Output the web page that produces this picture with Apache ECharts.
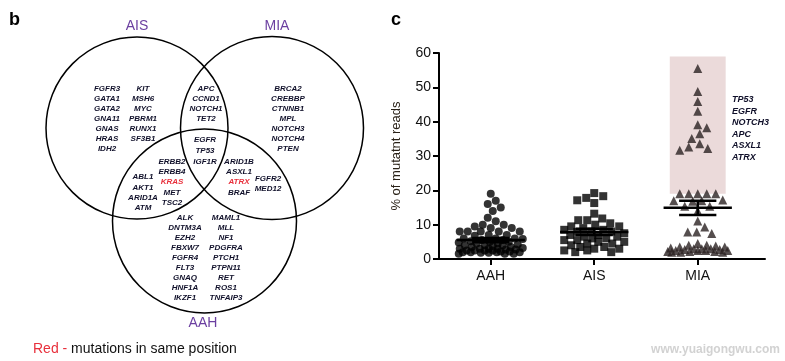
<!DOCTYPE html>
<html><head><meta charset="utf-8">
<script src="https://cdn.jsdelivr.net/npm/echarts@6/dist/echarts.min.js"></script>
<style>html,body{margin:0;padding:0;background:#fff}#c{width:785px;height:361px}</style>
</head><body><div id="c"></div>
<script>
// ---------- Panel c data ----------
const categories = ['AAH', 'AIS', 'MIA'];
const aahValues = [19, 17, 16, 15, 14, 12, 11,
  10, 10, 9.5, 9, 9,
  8, 8, 8, 8, 8,
  7, 7, 6.8,
  6, 6, 6, 5.8, 5.5, 5.5, 5.2, 5,
  5, 4.8, 4.5, 4.5, 4.2, 4, 4, 4, 3.8,
  3.5, 3.5, 3.2, 3, 3, 3, 3, 2.8, 2.8, 2.5, 2.5, 2.5, 2.5, 2.2, 2.2, 2, 2, 2, 2, 1.8, 1.8, 1.5, 1.5, 1.5];
const aisValues = [19.2, 18.3, 17.8, 17.1, 16.3, 13.2, 11.8, 11.3, 11.3, 10.4,
  10, 9.5, 9.5, 9, 8.5, 8.5, 8, 8, 7.9, 7.5, 7, 7, 6.5, 6.5, 6, 6,
  5.5, 5.5, 5, 5, 4.5, 4.5, 4, 3.5, 3.5, 3, 3, 2.5, 2.5, 2, 2];
const miaValues = [55.5, 48.8, 45.9, 43.0, 39.1, 38.2, 36.5, 35.1, 33.6, 32.2, 31.7, 32.6,
  19, 19, 19, 19, 19, 17.2, 17, 17, 16.8, 15.4, 15.4, 14, 11.1, 9.3, 7.9, 7.9, 7.4,
  4.5, 4, 4, 3.8, 3.5, 3.5, 3.2, 3, 3, 3, 2.8, 2.8, 2.5, 2.5, 2.5, 2.5, 2.2, 2.2, 2.2, 2, 2, 2];
const groupMeans = [5.5, 7.9, 14.9];
const groupSems = [0.6, 0.9, 2.1];
const yTicks = [0, 10, 20, 30, 40, 50, 60];
const highlightRange = [19, 59];
const highlightGenes = ['TP53', 'EGFR', 'NOTCH3', 'APC', 'ASXL1', 'ATRX'];

// ---------- Panel b data ----------
const vennLabels = ['AIS', 'MIA', 'AAH'];
const aisOnlyA = ['FGFR3', 'GATA1', 'GATA2', 'GNA11', 'GNAS', 'HRAS', 'IDH2'];
const aisOnlyB = ['KIT', 'MSH6', 'MYC', 'PBRM1', 'RUNX1', 'SF3B1'];
const aisMia = ['APC', 'CCND1', 'NOTCH1', 'TET2'];
const miaOnly = ['BRCA2', 'CREBBP', 'CTNNB1', 'MPL', 'NOTCH3', 'NOTCH4', 'PTEN'];
const allThree = ['EGFR', 'TP53', 'IGF1R'];
const aisAahA = ['ABL1', 'AKT1', 'ARID1A', 'ATM'];
const aisAahB = ['ERBB2', 'ERBB4', 'KRAS', 'MET', 'TSC2'];
const miaAahA = ['ARID1B', 'ASXL1', 'ATRX', 'BRAF'];
const miaAahB = ['FGFR2', 'MED12'];
const aahOnlyA = ['ALK', 'DNTM3A', 'EZH2', 'FBXW7', 'FGFR4', 'FLT3', 'GNAQ', 'HNF1A', 'IKZF1'];
const aahOnlyB = ['MAML1', 'MLL', 'NF1', 'PDGFRA', 'PTCH1', 'PTPN11', 'RET', 'ROS1', 'TNFAIP3'];
const redGenes = ['KRAS', 'ATRX'];

// ---------- layout ----------
const GRID = {left: 439, top: 53, right: 20, bottom: 102};
const XMIN = 0.5, XMAX = 3.65;
const PX_X = (785 - GRID.left - GRID.right) / (XMAX - XMIN);
const PX_Y = (361 - GRID.top - GRID.bottom) / 60;
const FONT = '"Liberation Sans", Arial, sans-serif';

// beeswarm placement (layout only): offsets limited to +/- maxW px, allowing overlap when crowded
function swarm(values, catIdx, diam, maxW) {
  const sorted = values.slice().sort((a, b) => b - a);
  const placed = [];
  const out = [];
  sorted.forEach(v => {
    const y = v * PX_Y;
    let xoff = null;
    for (let d = diam; d > 0 && xoff === null; d -= 0.5) {
      for (let i = 0; i < 2 * maxW + 1; i++) {
        const cand = i === 0 ? 0 : (i % 2 ? 1 : -1) * Math.ceil(i / 2);
        if (Math.abs(cand) > maxW) break;
        if (placed.every(p => (p[0] - cand) ** 2 + (p[1] - y) ** 2 >= d * d)) { xoff = cand; break; }
      }
    }
    if (xoff === null) xoff = 0;
    placed.push([xoff, y]);
    out.push([catIdx + 1 + xoff / PX_X, v]);
  });
  return out;
}

function geneColumn(list, cx, y0, dy) {
  return list.map((g, i) => ({
    type: 'text', x: cx, y: y0 + i * dy, silent: true,
    style: {
      text: g, fill: redGenes.includes(g) ? '#e8303c' : '#10102a',
      fontSize: 8, fontStyle: 'italic', fontWeight: 'bold', fontFamily: FONT,
      align: 'center', verticalAlign: 'middle'
    }
  }));
}

const circles = [[137, 128, 91], [272, 128, 91.5], [204.5, 221, 92]];
const vennLabelPos = [[137, 26], [277, 26], [203, 323]];

const graphics = [];
circles.forEach(c => graphics.push({
  type: 'circle', shape: {cx: c[0], cy: c[1], r: c[2]}, silent: true,
  style: {fill: 'none', stroke: '#000', lineWidth: 1.5}
}));
vennLabels.forEach((t, i) => graphics.push({
  type: 'text', x: vennLabelPos[i][0], y: vennLabelPos[i][1], silent: true,
  style: {text: t, fill: '#6b3fa0', fontSize: 14, fontFamily: FONT, align: 'center', verticalAlign: 'middle'}
}));
graphics.push(
  ...geneColumn(aisOnlyA, 107, 88.3, 10.1),
  ...geneColumn(aisOnlyB, 143, 88.3, 10.1),
  ...geneColumn(aisMia, 206, 88.3, 10.1),
  ...geneColumn(miaOnly, 288, 88.3, 10.1),
  ...geneColumn(allThree, 205, 139.5, 11.2),
  ...geneColumn(aisAahB, 172, 162, 10.1),
  ...geneColumn(aisAahA, 143, 177, 10.3),
  ...geneColumn(miaAahA, 239, 162, 10.1),
  ...geneColumn(miaAahB, 268, 179, 10),
  ...geneColumn(aahOnlyA, 185, 217.3, 10.1),
  ...geneColumn(aahOnlyB, 226, 217.3, 10.1)
);
graphics.push(
  {type: 'text', x: 9, y: 20, silent: true, style: {text: 'b', fontSize: 18, fontWeight: 'bold', fontFamily: FONT, fill: '#000', verticalAlign: 'middle'}},
  {type: 'text', x: 391, y: 20, silent: true, style: {text: 'c', fontSize: 18, fontWeight: 'bold', fontFamily: FONT, fill: '#000', verticalAlign: 'middle'}},
  {type: 'text', x: 33, y: 349, silent: true, style: {
    text: '{r|Red -} mutations in same position', fontSize: 14, fontFamily: FONT, fill: '#111', verticalAlign: 'middle',
    rich: {r: {fill: '#e8303c', fontSize: 14, fontFamily: FONT}}
  }},
  {type: 'text', x: 732, y: 94, silent: true, style: {
    text: highlightGenes.join('\n'), fontSize: 9, fontStyle: 'italic', fontWeight: 'bold', fontFamily: FONT, fill: '#10102a',
    lineHeight: 11.5, verticalAlign: 'top'
  }},
  {type: 'text', x: 780, y: 350, silent: true, style: {
    text: 'www.yuaigongwu.com', fontSize: 12, fontWeight: 'bold', fontFamily: FONT, fill: '#d2d2d2',
    align: 'right', verticalAlign: 'middle'
  }}
);

const chart = echarts.init(document.getElementById('c'), null, {renderer: 'canvas'});
chart.setOption({
  animation: false,
  backgroundColor: '#fff',
  grid: GRID,
  xAxis: {
    type: 'value', min: XMIN, max: XMAX,
    axisLine: {show: true, lineStyle: {color: '#000', width: 2}},
    axisTick: {show: true, customValues: [1, 2, 3], length: 6, lineStyle: {color: '#000', width: 2}},
    axisLabel: {customValues: [1, 2, 3], formatter: v => categories[Math.round(v) - 1], fontSize: 14, color: '#111', fontFamily: FONT, margin: 10},
    splitLine: {show: false}
  },
  yAxis: {
    type: 'value', min: yTicks[0], max: yTicks[yTicks.length - 1], interval: 10,
    axisLine: {show: true, lineStyle: {color: '#000', width: 2}},
    axisTick: {show: true, length: 6, lineStyle: {color: '#000', width: 2}},
    axisLabel: {fontSize: 14, color: '#111', fontFamily: FONT, margin: 8},
    splitLine: {show: false},
    name: '% of mutatnt reads', nameLocation: 'middle', nameGap: 36,
    nameTextStyle: {fontSize: 13, color: '#2a2218', fontFamily: FONT}
  },
  graphic: graphics,
  series: [
    {
      type: 'scatter', name: 'MIA', symbol: 'triangle', symbolSize: 9,
      itemStyle: {color: '#2b2222'}, z: 3,
      data: swarm(miaValues, 2, 9, 30),
      markArea: {
        silent: true, itemStyle: {color: '#ebdada'},
        data: [[{coord: [2.73, highlightRange[0]]}, {coord: [3.27, highlightRange[1]]}]]
      }
    },
    {type: 'scatter', name: 'AAH', symbol: 'circle', symbolSize: 8, itemStyle: {color: '#000'}, z: 3, data: swarm(aahValues, 0, 8, 32)},
    {type: 'scatter', name: 'AIS', symbol: 'rect', symbolSize: 8, itemStyle: {color: '#000'}, z: 3, data: swarm(aisValues, 1, 9, 30)},
    {
      type: 'custom', z: 5, silent: true,
      data: categories.map((c, i) => [i + 1, groupMeans[i], groupSems[i]]),
      renderItem: (params, api) => {
        const c = api.value(0), m = api.value(1), s = api.value(2);
        const st = {stroke: '#000', lineWidth: 2.5};
        const a1 = api.coord([c - 0.33, m]), a2 = api.coord([c + 0.33, m]);
        const t1 = api.coord([c - 0.18, m + s]), t2 = api.coord([c + 0.18, m + s]);
        const b1 = api.coord([c - 0.18, m - s]), b2 = api.coord([c + 0.18, m - s]);
        return {type: 'group', children: [
          {type: 'line', shape: {x1: a1[0], y1: a1[1], x2: a2[0], y2: a2[1]}, style: st},
          {type: 'line', shape: {x1: t1[0], y1: t1[1], x2: t2[0], y2: t2[1]}, style: st},
          {type: 'line', shape: {x1: b1[0], y1: b1[1], x2: b2[0], y2: b2[1]}, style: st},
          {type: 'line', shape: {x1: (t1[0] + t2[0]) / 2, y1: t1[1], x2: (b1[0] + b2[0]) / 2, y2: b1[1]}, style: st}
        ]};
      }
    }
  ]
});
</script></body></html>
